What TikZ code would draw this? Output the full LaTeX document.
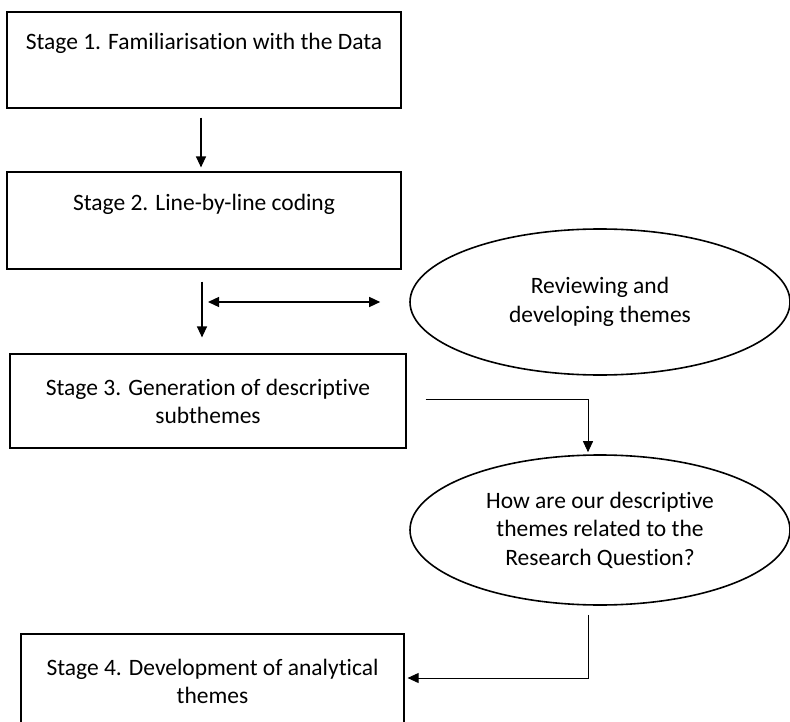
\documentclass[tikz,border=0pt]{standalone}
\usepackage{fontspec}
\setmainfont{Carlito}[Ligatures={NoCommon}]
\usetikzlibrary{shapes.geometric,arrows.meta}
\begin{document}
\begin{tikzpicture}[x=1pt,y=-1pt,
  stagebox/.style={draw, line width=1.2pt, rectangle, inner sep=0pt},
  oval/.style={draw, line width=1.6pt, ellipse, inner sep=0pt, align=center, font=\fontsize{23.5}{28.5}\selectfont},
  txt/.style={align=center, inner sep=0pt, font=\fontsize{23.5}{28}\selectfont},
  arr/.style={line width=1.3pt, -{Triangle[length=11pt,width=10pt]}},
  darr/.style={line width=1.3pt, {Triangle[length=11pt,width=10pt]}-{Triangle[length=11pt,width=10pt]}},
  thinarr/.style={line width=0.9pt, -{Triangle[length=11pt,width=10pt]}}]
\useasboundingbox (0,0) rectangle (790,722);
% boxes
\node[stagebox, minimum width=394pt, minimum height=96pt] (s1) at (204,60) {};
\node[txt] (t1) at (204,43) {Stage 1. Familiarisation with the Data};
\node[stagebox, minimum width=394pt, minimum height=97pt] (s2) at (204,220.5) {};
\node[txt] (t2) at (204,204) {Stage 2. Line-by-line coding};
\node[stagebox, minimum width=396pt, minimum height=94pt] (s3) at (208,401) {};
\node[txt] (t3) at (208,401) {Stage 3. Generation of descriptive\\subthemes};
\node[stagebox, minimum width=383pt, minimum height=96pt] (s4) at (212.5,682) {};
\node[txt] (t4) at (212.5,681) {Stage 4. Development of analytical\\themes};
% ellipses
\node[oval, minimum width=380pt, minimum height=146pt] (e1) at (600,302) {Reviewing and\\developing themes};
\node[oval, minimum width=380pt, minimum height=150pt] (e2) at (600,530) {How are our descriptive\\themes related to the\\Research Question?};
% connectors
\draw[arr] ([xshift=-3pt,yshift=-9pt]s1.south) -- ([xshift=-3pt,yshift=4pt]s2.north);
\draw[arr] ([xshift=-2pt,yshift=-12pt]s2.south) -- ([xshift=-6pt,yshift=16pt]s3.north);
\coordinate (dl) at (208,302);
\draw[darr] (dl) -- ([xshift=-29pt]e1.west);
\draw[thinarr] ([xshift=19pt,yshift=2pt]s3.east) -| ([xshift=-12pt,yshift=2pt]e2.north);
\draw[thinarr] ([xshift=-12pt,yshift=-9pt]e2.south) |- ([xshift=3pt,yshift=4pt]s4.east);
\end{tikzpicture}
\end{document}
